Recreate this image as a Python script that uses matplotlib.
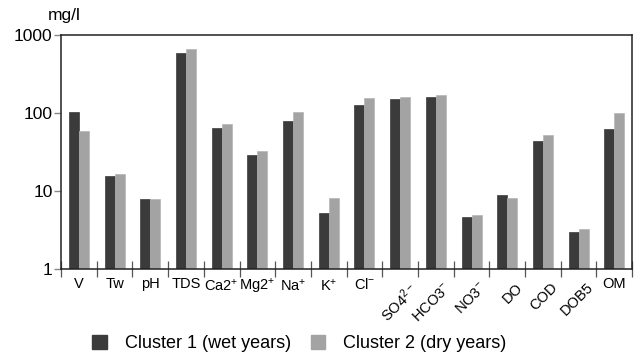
import matplotlib.pyplot as plt
import numpy as np
from matplotlib.patches import Patch
from matplotlib.transforms import ScaledTranslation

plt.rcParams['font.family'] = ['Liberation Sans', 'DejaVu Sans']
plt.rcParams['mathtext.fontset'] = 'custom'
plt.rcParams['mathtext.rm'] = 'Liberation Sans'
plt.rcParams['mathtext.default'] = 'regular'

# parameters on the x axis
params = ['V', 'Tw', 'pH', 'TDS', 'Ca2$^{+}$', 'Mg2$^{+}$', 'Na$^{+}$', 'K$^{+}$', 'Cl$^{-}$',
          'SO4$^{2-}$', 'HCO3$^{-}$', 'NO3$^{-}$', 'DO', 'COD', 'DOB5', 'OM']
rotated = ['SO4$^{2-}$', 'HCO3$^{-}$', 'NO3$^{-}$', 'DO', 'COD', 'DOB5']

# mean values (mg/l)
wet = [103, 15.6, 8.0, 582, 64, 29, 80, 5.2, 128, 150, 160, 4.7, 9.0, 44, 3.0, 62]
dry = [59, 16.7, 8.0, 656, 72, 33, 103, 8.1, 157, 162, 169, 5.0, 8.1, 52, 3.25, 100]

dark = '#3b3b3b'
light = '#a3a3a3'

fig = plt.figure(figsize=(6.41, 3.54), dpi=100)
ax = fig.add_axes([0.0952, 0.240, 0.891, 0.661])

x = np.arange(len(params))
w = 0.28
ax.bar(x - w / 2, wet, w, color=dark, edgecolor=dark, linewidth=0.5)
ax.bar(x + w / 2, dry, w, color=light, edgecolor='#b5b5b5', linewidth=0.5)

ax.set_yscale('log')
ax.set_ylim(1, 1000)
ax.set_xlim(-0.5, len(params) - 0.5)
ax.set_yticks([1, 10, 100, 1000])
ax.set_yticklabels(['1', '10', '100', '1000'], fontsize=12.5)
ax.yaxis.set_minor_locator(plt.NullLocator())
ax.tick_params(axis='y', length=5, color='#888888', width=1, pad=1)

# labels at centres, separator ticks at boundaries
ax.set_xticks(x)
ax.set_xticklabels(params, fontsize=10.5)
ax.tick_params(axis='x', which='major', length=0, pad=6)
ax.set_xticks(np.arange(len(params) + 1) - 0.5, minor=True)
ax.tick_params(axis='x', which='minor', direction='inout', length=12, color='#555555', width=0.9)

for lab in ax.get_xticklabels():
    if lab.get_text() in rotated:
        lab.set_rotation(45)
        lab.set_ha('right')
        lab.set_rotation_mode('anchor')
        lab.set_transform(lab.get_transform() + ScaledTranslation(8 / 100, -3 / 100, fig.dpi_scale_trans))

for s in ax.spines.values():
    s.set_color('#222222')
    s.set_linewidth(1.1)

fig.text(0.075, 0.955, 'mg/l', fontsize=12.5, va='center')

handles = [Patch(color=dark, label='Cluster 1 (wet years)'),
           Patch(color=light, label='Cluster 2 (dry years)')]
fig.legend(handles=handles, loc='center', bbox_to_anchor=(0.467, 0.029), ncol=2,
           frameon=False, fontsize=13, handlelength=0.8, handleheight=0.8,
           handletextpad=1.0, columnspacing=1.1, borderpad=0)

fig.savefig('out.png', dpi=100)
